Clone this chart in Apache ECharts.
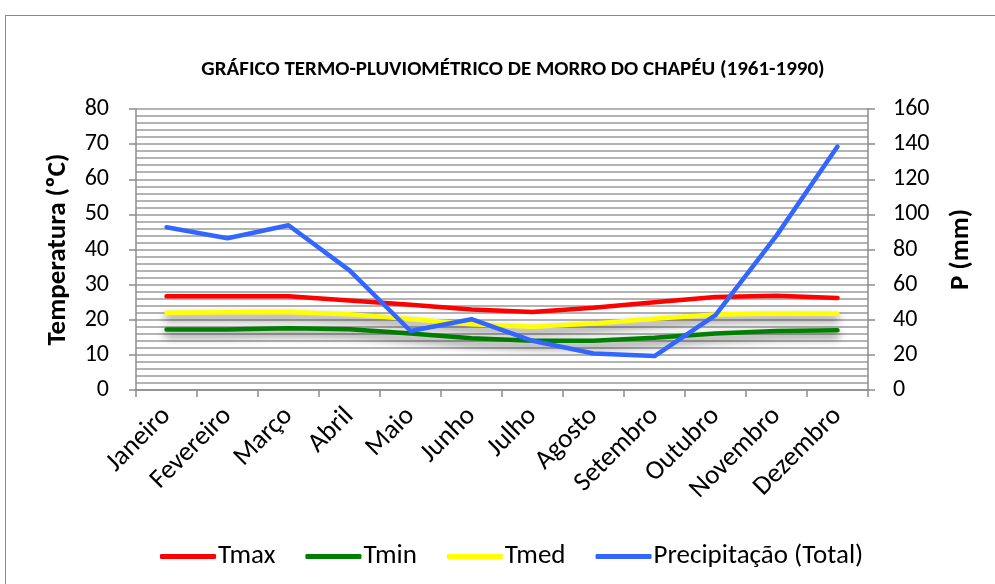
<!DOCTYPE html>
<html>
<head>
<meta charset="utf-8">
<script src="https://cdn.jsdelivr.net/npm/echarts@6/dist/echarts.min.js"></script>
<style>
  html, body { margin: 0; padding: 0; background: #fff; }
  #frame { position: absolute; left: 5px; top: 15px; width: 1000px; height: 600px; border: 1.5px solid #8a8a8a; box-sizing: border-box; }
  #chart { position: absolute; left: 0; top: 0; width: 995px; height: 584px; }
</style>
</head>
<body>
<div id="frame"></div>
<div id="chart"></div>
<script>
// Monthly climate normals, Morro do Chapéu (1961-1990)
const months = ['Janeiro', 'Fevereiro', 'Março', 'Abril', 'Maio', 'Junho', 'Julho', 'Agosto', 'Setembro', 'Outubro', 'Novembro', 'Dezembro'];
const tmax = [26.7, 26.7, 26.7, 25.5, 24.3, 22.9, 22.2, 23.4, 25.0, 26.5, 26.8, 26.2];
const tmin = [17.2, 17.2, 17.6, 17.3, 16.1, 14.7, 14.0, 14.0, 14.9, 16.1, 16.8, 17.0];
const tmed = [22.0, 22.1, 22.2, 21.6, 20.2, 18.7, 18.0, 18.9, 20.3, 21.5, 21.8, 21.7];
const precip = [92.7, 86.4, 93.8, 68.1, 33.6, 40.3, 28.0, 20.8, 19.3, 42.6, 87.9, 138.6];
const tempTicks = [0, 80, 10];
const precipTicks = [0, 160, 20];

const font = 'Carlito, Lato, "Open Sans", sans-serif';
const axisGray = '#8c8c8c';

const chart = echarts.init(document.getElementById('chart'), null, { renderer: 'canvas' });

const shadowed = {
  shadowColor: 'rgba(0,0,0,0.6)',
  shadowBlur: 9,
  shadowOffsetY: 5
};

chart.setOption({
  animation: false,
  title: {
    text: 'GRÁFICO TERMO-PLUVIOMÉTRICO DE MORRO DO CHAPÉU (1961-1990)',
    left: 508,
    textAlign: 'center',
    top: 54,
    textStyle: { fontFamily: font, fontSize: 21, fontWeight: 'bold', color: '#000' }
  },
  legend: {
    top: 538,
    left: 155,
    itemWidth: 56,
    itemHeight: 5,
    itemGap: 30,
    icon: 'roundRect',
    textStyle: { fontFamily: font, fontSize: 27, color: '#000', padding: [0, 0, 0, -3] },
    data: ['Tmax', 'Tmin', 'Tmed', 'Precipitação (Total)']
  },
  grid: { left: 136, right: 127, top: 109, bottom: 194 },
  xAxis: {
    type: 'category',
    data: months,
    boundaryGap: true,
    axisLine: { lineStyle: { color: axisGray, width: 1.5 } },
    axisTick: { show: true, length: 7, lineStyle: { color: axisGray, width: 1.5 } },
    axisLabel: {
      rotate: 45,
      interval: 0,
      fontFamily: font,
      fontSize: 27,
      color: '#000',
      margin: 22
    }
  },
  yAxis: [
    {
      type: 'value',
      min: tempTicks[0],
      max: tempTicks[1],
      interval: tempTicks[2],
      name: 'Temperatura (ºC)',
      nameLocation: 'middle',
      nameGap: 64,
      nameRotate: 90,
      nameTextStyle: { fontFamily: font, fontSize: 27, fontWeight: 'bold', color: '#000' },
      axisLine: { show: true, lineStyle: { color: axisGray, width: 1.5 } },
      axisTick: { show: true, length: 7, lineStyle: { color: axisGray, width: 1.5 } },
      axisLabel: { fontFamily: font, fontSize: 24, color: '#000', margin: 27 },
      splitLine: { show: true, lineStyle: { color: '#b3b3b3', width: 2 } },
      minorTick: { show: false, splitNumber: 5 },
      minorSplitLine: { show: true, lineStyle: { color: '#b3b3b3', width: 2 } }
    },
    {
      type: 'value',
      min: precipTicks[0],
      max: precipTicks[1],
      interval: precipTicks[2],
      name: 'P (mm)',
      nameLocation: 'middle',
      nameGap: 80,
      nameRotate: 90,
      nameTextStyle: { fontFamily: font, fontSize: 27, fontWeight: 'bold', color: '#000' },
      axisLine: { show: true, lineStyle: { color: axisGray, width: 1.5 } },
      axisTick: { show: true, length: 7, lineStyle: { color: axisGray, width: 1.5 } },
      axisLabel: { fontFamily: font, fontSize: 24, color: '#000', margin: 25 },
      splitLine: { show: false }
    }
  ],
  series: [
    {
      name: 'Tmax', type: 'line', data: tmax, yAxisIndex: 0,
      symbol: 'none', color: '#ff0000',
      lineStyle: { width: 4.5, cap: 'round' }, z: 3
    },
    {
      name: 'Tmin', type: 'line', data: tmin, yAxisIndex: 0,
      symbol: 'none', color: '#008000',
      lineStyle: Object.assign({ width: 4.5, cap: 'round' }, shadowed), z: 2
    },
    {
      name: 'Tmed', type: 'line', data: tmed, yAxisIndex: 0,
      symbol: 'none', color: '#ffff00',
      lineStyle: Object.assign({ width: 4.5, cap: 'round' }, shadowed), z: 2
    },
    {
      name: 'Precipitação (Total)', type: 'line', data: precip, yAxisIndex: 1,
      symbol: 'none', color: '#3366ff',
      lineStyle: { width: 4.5, cap: 'round', join: 'round' }, z: 4
    }
  ]
});
</script>
</body>
</html>
